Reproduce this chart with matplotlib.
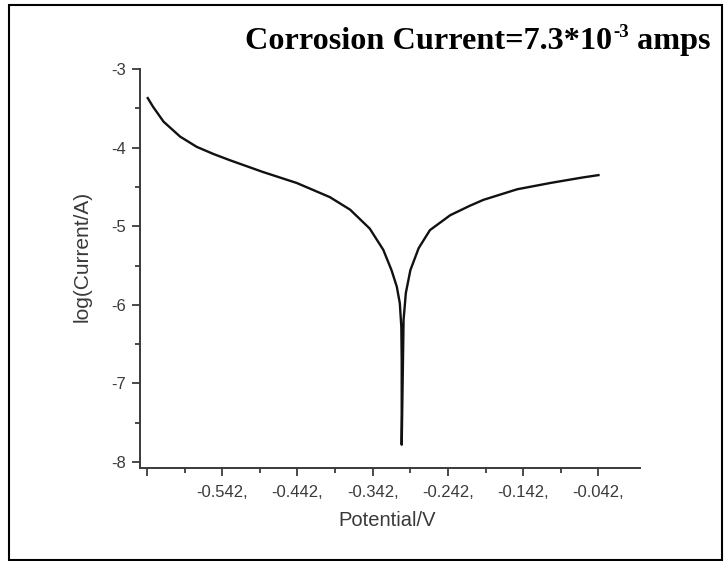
import matplotlib.pyplot as plt
from matplotlib.patches import Rectangle
from matplotlib.ticker import FixedLocator
from matplotlib.transforms import IdentityTransform

plt.rcParams["axes.unicode_minus"] = False

# --- data
potential = [-0.641, -0.634, -0.620, -0.598, -0.576, -0.554, -0.532, -0.488,
             -0.443, -0.421, -0.399, -0.372, -0.346, -0.328, -0.317, -0.310,
             -0.306, -0.304, -0.3035, -0.3035, -0.301, -0.298, -0.292, -0.281,
             -0.266, -0.239, -0.213, -0.195, -0.150, -0.106, -0.063, -0.042]
log_current = [-3.37, -3.48, -3.67, -3.86, -3.99, -4.08, -4.16, -4.31,
               -4.45, -4.54, -4.63, -4.79, -5.03, -5.30, -5.56, -5.77,
               -5.98, -6.28, -6.70, -7.78, -6.19, -5.85, -5.56, -5.28,
               -5.05, -4.86, -4.74, -4.665, -4.53, -4.45, -4.38, -4.35]

x_ticks = [-0.642, -0.542, -0.442, -0.342, -0.242, -0.142, -0.042]
x_labels = ["", "-0.542,", "-0.442,", "-0.342,", "-0.242,", "-0.142,", "-0.042,"]
y_ticks = [-8, -7, -6, -5, -4, -3]

# --- figure
fig = plt.figure(figsize=(7.25, 5.61), dpi=100)
fig.patches.append(Rectangle((9 / 725, 1 / 561), 713 / 725, 555 / 561,
                             transform=fig.transFigure, fill=False,
                             edgecolor="black", linewidth=1.5))

ax = fig.add_axes([140 / 725, 1 - 468 / 561, 500 / 725, 399 / 561])
ax.plot(potential, log_current, color="#111111", linewidth=1.7)

ax.set_xlim(-0.6513, 0.0132)
ax.set_ylim(-8.076, -3.0)

gray = "#3a3a3a"
for side in ("top", "right"):
    ax.spines[side].set_visible(False)
for side in ("left", "bottom"):
    ax.spines[side].set_color(gray)
    ax.spines[side].set_linewidth(1.4)

ax.set_xticks(x_ticks)
ax.set_xticklabels(x_labels)
ax.xaxis.set_minor_locator(FixedLocator([t + 0.05 for t in x_ticks[:-1]]))
ax.set_yticks(y_ticks)
ax.set_yticklabels([str(v) for v in y_ticks])
ax.yaxis.set_minor_locator(FixedLocator([t + 0.5 for t in y_ticks[:-1]]))

ax.tick_params(which="major", length=6, width=1.3, color=gray,
               labelsize=12, labelcolor=gray)
ax.tick_params(axis="x", which="major", pad=6)
ax.tick_params(axis="y", which="major", pad=4)
ax.tick_params(which="minor", length=3.5, width=1.3, color=gray)
for lab in ax.get_xticklabels() + ax.get_yticklabels():
    lab.set_fontfamily("Liberation Sans")

ax.set_xlabel("Potential/V", fontsize=14.5, color=gray, family="Liberation Sans")
ax.xaxis.set_label_coords(0.495, -43 / 399)
ax.set_ylabel("log(Current/A)", fontsize=15, color=gray, family="Liberation Sans")
ax.yaxis.set_label_coords(-48 / 500, 212 / 399)

# --- title with a plain hyphen in the exponent, built from three pieces
title_main, title_exp, title_tail = "Corrosion Current=7.3*10", "-3", " amps"
ident = IdentityTransform()
tfont = dict(family="Liberation Serif", fontweight="bold", color="black")
t1 = fig.text(245, 561 - 49, title_main, transform=ident, fontsize=23.2,
              va="baseline", **tfont)
fig.canvas.draw()
x1 = t1.get_window_extent().x1
t2 = fig.text(x1 + 1, 561 - 37, title_exp, transform=ident, fontsize=13.5,
              va="baseline", **tfont)
fig.canvas.draw()
x2 = t2.get_window_extent().x1
fig.text(x2, 561 - 49, title_tail, transform=ident, fontsize=23.2,
         va="baseline", **tfont)

fig.savefig("out.png", dpi=100)
